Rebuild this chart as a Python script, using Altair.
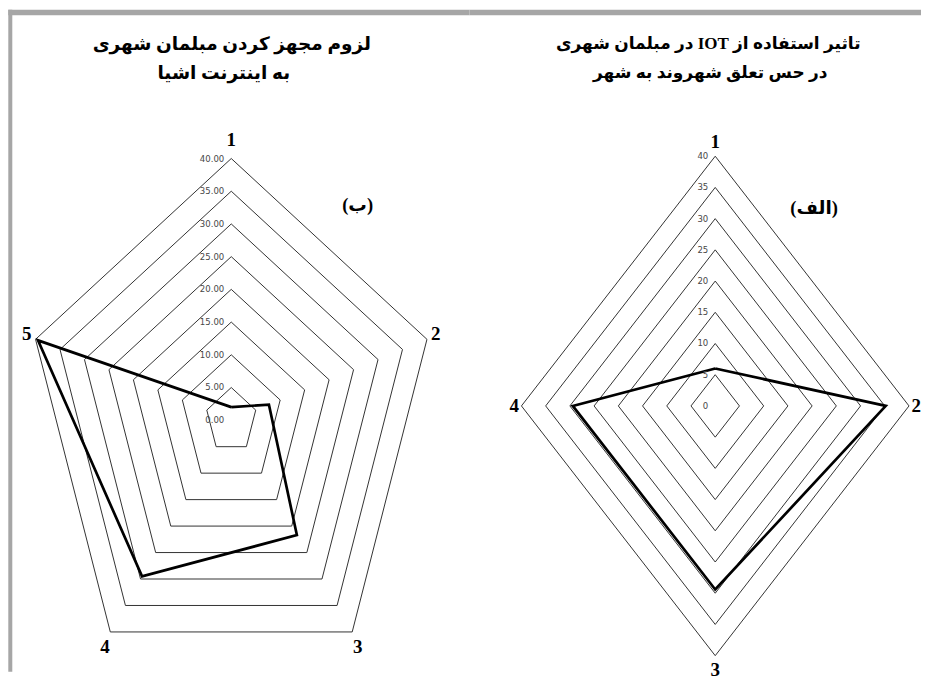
import math
import altair as alt
import pandas as pd

# ---------------- data ----------------
left_categories = ["1", "2", "3", "4", "5"]
left_values = [2.0, 7.7, 21.7, 29.5, 39.5]
right_categories = ["1", "2", "3", "4"]
right_values = [6.0, 35.2, 29.4, 29.4]
grid_levels = [5, 10, 15, 20, 25, 30, 35, 40]
tick_levels = [0, 5, 10, 15, 20, 25, 30, 35, 40]
left_tick_labels = ["0.00", "5.00", "10.00", "15.00", "20.00", "25.00", "30.00", "35.00", "40.00"]
right_tick_labels = ["0", "5", "10", "15", "20", "25", "30", "35", "40"]
left_title = ["لزوم مجهز کردن مبلمان شهری", "به اینترنت اشیا"]
right_title = ["تاثیر استفاده از IOT در مبلمان شهری", "در حس تعلق شهروند به شهر"]
left_tag = "(ب)"
right_tag = "(الف)"

RLE, PDF = "\u202b", "\u202c"
FRAME = "#a6a6a6"
H = 664


def polar(n, k, r, ry=None):
    t = 2 * math.pi * k / n
    return r * math.sin(t), (r if ry is None else ry) * math.cos(t)


def panel(cats, vals, tick_labels, width, cx, cy, sx, sy,
          title_lines, title_xs, title_size, tag, tag_pos, label_rx, label_ry,
          tick_font_size, bar_x0, bar_x1):
    n = len(cats)
    xdom = [-cx / sx, (width - cx) / sx]
    ydom = [(cy - H) / sy, cy / sy]
    xs = alt.Scale(domain=xdom, nice=False, zero=False)
    ys = alt.Scale(domain=ydom, nice=False, zero=False)

    rings = []
    for lvl in grid_levels:
        for i in range(n + 1):
            x, y = polar(n, i % n, lvl)
            rings.append({"level": lvl, "ord": i, "x": x, "y": y})
    rings = pd.DataFrame(rings)

    poly = []
    for i in range(n + 1):
        x, y = polar(n, i % n, vals[i % n])
        poly.append({"ord": i, "x": x, "y": y, "cat": cats[i % n], "value": vals[i % n]})
    poly = pd.DataFrame(poly)

    ticks = pd.DataFrame({"x": [0.0] * len(tick_levels), "y": tick_levels, "label": tick_labels})

    labs = []
    for k, c in enumerate(cats):
        x, y = polar(n, k, label_rx, label_ry)
        labs.append({"x": x, "y": y, "label": c})
    labs = pd.DataFrame(labs)

    X = alt.X("x:Q", scale=xs, axis=None)
    Y = alt.Y("y:Q", scale=ys, axis=None)

    one = pd.DataFrame({"a": [0]})
    top_bar = alt.Chart(one).mark_rect(color=FRAME).encode(
        x=alt.value(bar_x0), x2=alt.value(bar_x1), y=alt.value(1.3), y2=alt.value(7))

    grid = alt.Chart(rings).mark_line(color="#333333", strokeWidth=1).encode(
        x=X, y=Y, detail="level:N", order="ord:Q")

    line = alt.Chart(poly).mark_line(color="#000000", strokeWidth=2.7, strokeJoin="miter").encode(
        x=X, y=Y, order="ord:Q")

    tick_text = alt.Chart(ticks).mark_text(
        align="right", baseline="middle", dx=-7, fontSize=tick_font_size,
        font="Liberation Sans Narrow, DejaVu Sans Condensed, Liberation Sans",
        color="#474747").encode(x=X, y=Y, text="label:N")

    cat_text = alt.Chart(labs).mark_text(
        align="center", baseline="middle", fontSize=19, fontWeight="bold",
        font="Liberation Serif", color="#000000").encode(x=X, y=Y, text="label:N")

    layers = [top_bar, grid, line, tick_text, cat_text]
    for i, (s, tx) in enumerate(zip(title_lines, title_xs)):
        layers.append(
            alt.Chart(pd.DataFrame({"t": [RLE + s + PDF]})).mark_text(
                align="center", baseline="middle", fontSize=title_size, fontWeight="bold",
                font="Liberation Serif, DejaVu Sans", dir="rtl", color="#000000").encode(
                x=alt.value(tx), y=alt.value(36 + 29 * i), text="t:N"))

    layers.append(
        alt.Chart(pd.DataFrame({"t": [RLE + tag + PDF]})).mark_text(
            align="center", baseline="middle", fontSize=18.5, fontWeight="bold",
            font="Liberation Serif, DejaVu Sans", dir="rtl", color="#000000").encode(
            x=alt.value(tag_pos[0]), y=alt.value(tag_pos[1]), text="t:N"))

    return alt.layer(*layers).properties(width=width, height=H)


left = panel(left_categories, left_values, left_tick_labels, 462,
             223.5, 412.3, 5.15, 6.55, left_title, [224, 216], 18.5, left_tag, (350, 197),
             41.8, 42.8, 9.5, 0.3, 462)
left_bar = alt.Chart(pd.DataFrame({"a": [0]})).mark_rect(color=FRAME).encode(
    x=alt.value(0.3), x2=alt.value(4.3), y=alt.value(1.3), y2=alt.value(H))
left = alt.layer(left_bar, left)

right = panel(right_categories, right_values, right_tick_labels, 452,
              246.0, 398.0, 4.85, 6.25, right_title, [239, 241], 17, right_tag, (345, 200),
              41.5, 42.3, 9.5, 0, 452)

chart = alt.hconcat(left, right, spacing=0, bounds="flush").properties(
    padding=0, background="#ffffff"
).configure_view(stroke="transparent", strokeWidth=0)

chart.save("out.html", embed_options={"renderer": "svg", "actions": False})
